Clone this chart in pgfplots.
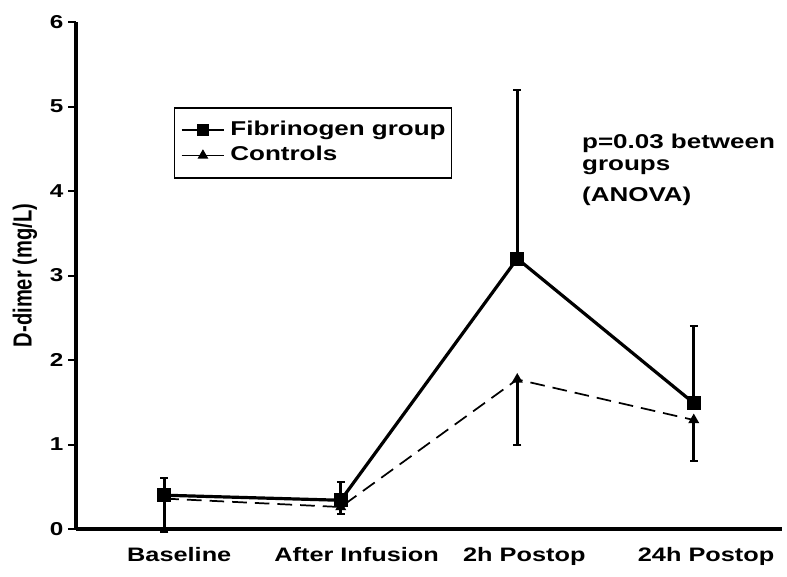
\documentclass[border=0pt]{standalone}
\usepackage{pgfplots}
\pgfplotsset{compat=1.18}
\usepackage{fontspec}
\setmainfont{Liberation Sans}[FakeStretch=1.3]
\newfontfamily\ylabfont{Liberation Sans}[FakeStretch=0.77]
\pgfplotstableread{
x y e
1 0.40 0.20
2 0.34 0.22
3 3.20 2.00
4 1.49 0.91
}\fibrinogen
\pgfplotstableread{
x y e
1 0.36 0.40
2 0.26 0.08
3 1.77 0.78
4 1.29 0.49
}\controls
\begin{document}
\begin{tikzpicture}
\useasboundingbox (0,0) rectangle (590.25pt,432pt);
\begin{axis}[
  at={(57pt,35.25pt)}, anchor=south west,
  width=529.5pt, height=380.25pt, scale only axis,
  xmin=0.5, xmax=4.5, ymin=0, ymax=6,
  axis x line*=bottom, axis y line*=left,
  axis line style={line width=2.4pt, -},
  ytick={0,1,2,3,4,5,6},
  xtick={1.085,2.09,3.04,4.07},
  xticklabels={Baseline, After Infusion, 2h Postop, 24h Postop},
  tick align=outside, major tick length=6pt,
  tick style={line width=1.5pt, black},
  xtick style={draw=none},
  /pgf/number format/assume math mode=true,
  yticklabel style={font=\fontsize{14}{16}\selectfont\bfseries},
  xticklabel style={font=\fontsize{14.6}{18}\selectfont\bfseries, yshift=-4pt},
  ylabel={D-dimer (mg/L)},
  ylabel style={font=\ylabfont\fontsize{19.6}{22}\selectfont\bfseries, at={(axis description cs:-0.0722,0.5)}, anchor=center},
  clip=false,
  legend style={at={(axis description cs:0.139,0.832)}, anchor=north west, draw=black, line width=1pt,
    font=\fontsize{15}{18}\selectfont\bfseries, inner xsep=4.5pt, inner ysep=9pt, row sep=3.5pt, column sep=4pt,
    nodes={inner sep=0pt, text height=11.5pt, text depth=4pt}},
  legend cell align=left,
  legend image code/.code={\draw[#1, line width=1.2pt, solid, mark repeat=2, mark phase=2] plot coordinates {(0pt,0pt) (16pt,0pt) (32pt,0pt)};},
]
\addplot[black, line width=2.4pt, mark=square*, mark size=4pt, mark options={solid},
  error bars/.cd, y dir=plus, y explicit,
  error bar style={line width=2pt, solid},
  error mark options={rotate=90, mark size=3pt, line width=1.5pt}]
  table[x=x, y=y, y error=e] {\fibrinogen};
\addlegendentry{Fibrinogen group}
\addplot[black, line width=1.3pt, dash pattern=on 11pt off 6pt, mark=triangle*, mark size=3.5pt, mark options={solid},
  error bars/.cd, y dir=minus, y explicit,
  error bar style={line width=2pt, solid},
  error mark options={rotate=90, mark size=3pt, line width=1.5pt, solid}]
  table[x=x, y=y, y error=e] {\controls};
\addlegendentry{Controls}
\node[anchor=north west, inner sep=0pt, align=left, font=\fontsize{15}{17}\selectfont\bfseries]
  at (axis cs:3.366,4.68) {p=0.03 between\\groups\\[6pt](ANOVA)};
\end{axis}
\end{tikzpicture}
\end{document}
